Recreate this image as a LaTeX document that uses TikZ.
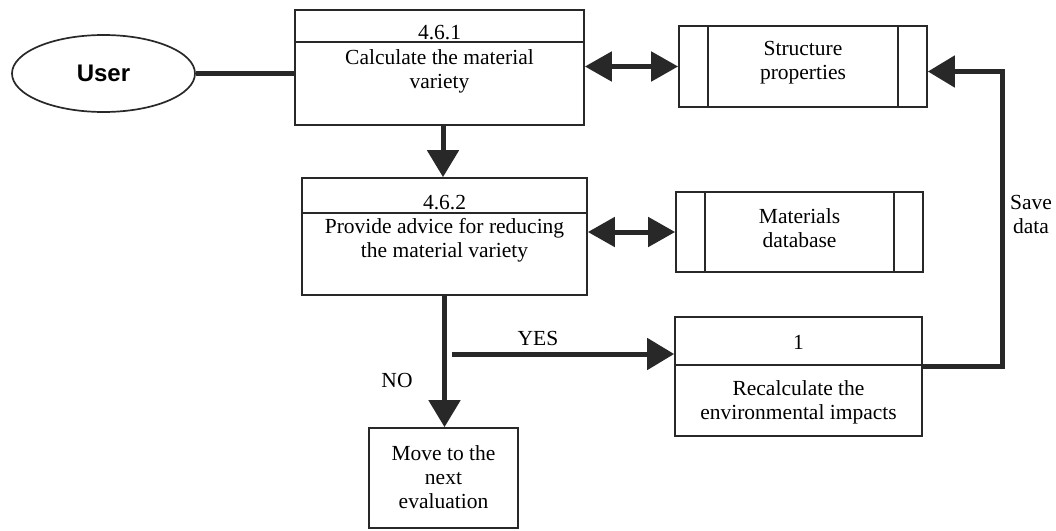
\documentclass[tikz,border=0pt]{standalone}
\usepackage{fontspec}
\setmainfont{Liberation Serif}
\newfontfamily\actorfont{Liberation Sans}
\definecolor{inkgray}{RGB}{40, 40, 40}
\usetikzlibrary{arrows.meta, positioning, shapes.geometric, calc}
\tikzset{
	procbox/.style={rectangle, draw=inkgray, line width=1.7pt, inner sep=0pt, fill=white},
	storebox/.style={rectangle, draw=inkgray, line width=1.7pt, inner sep=0pt, fill=white},
	actor/.style={ellipse, draw=inkgray, line width=1.7pt, inner sep=0pt, minimum width=183pt, minimum height=77pt, font=\actorfont\bfseries\fontsize{24}{26}\selectfont},
	txt/.style={inner sep=0pt, align=center, font=\fontsize{21.5}{24}\selectfont},
	split/.style={draw=inkgray, line width=1.7pt},
	link/.style={draw=inkgray, line width=4.5pt},
	arrow/.style={draw=inkgray, line width=5pt, -{Triangle[length=27pt, width=31pt]}},
	duplex/.style={draw=inkgray, line width=5pt, {Triangle[length=27pt, width=29pt]}-{Triangle[length=27pt, width=29pt]}},
}
\begin{document}
\begin{tikzpicture}[x=1pt, y=-1pt]
		\useasboundingbox[fill=white] (0,0) rectangle (1056,530);
		% actor and process boxes
		\node[actor] (user) at (103.5,73.5) {User};
		\node[procbox, minimum width=289pt, minimum height=115pt] (calc) at (439.5,67.5) {};
		\node[procbox, minimum width=285pt, minimum height=117pt] (advice) at (444.5,236.5) {};
		\node[procbox, minimum width=247pt, minimum height=119pt] (recalc) at (798.5,376.5) {};
		\node[procbox, minimum width=149pt, minimum height=100pt] (next) at (443.5,478) {};
		% data stores
		\node[storebox, minimum width=248pt, minimum height=81pt] (struct) at (803,66.5) {};
		\node[storebox, minimum width=247pt, minimum height=80pt] (matdb) at (799.5,232) {};
		\foreach \s in {struct,matdb}{
			\draw[split] ([xshift=30pt]\s.north west) -- ([xshift=30pt]\s.south west);
			\draw[split] ([xshift=-30pt]\s.north east) -- ([xshift=-30pt]\s.south east);
		}
		% header lines of the process boxes
		\foreach \n/\d in {calc/33,advice/36,recalc/49}{
			\draw[split] ([yshift=-\d pt]\n.north west) -- ([yshift=-\d pt]\n.north east);
		}
		% texts
		\node[txt] (calcid) at (439.5,33) {4.6.1};
		\node[txt] (calctxt) at (439.5,71) {Calculate the material\\variety};
		\node[txt] (adviceid) at (444.5,203) {4.6.2};
		\node[txt] (advicetxt) at (444.5,240) {Provide advice for reducing\\the material variety};
		\node[txt] (recalcid) at (798.5,342) {1};
		\node[txt] (recalctxt) at (798.5,402) {Recalculate the\\environmental impacts};
		\node[txt] (nexttxt) at (443.5,477) {Move to the\\next\\evaluation};
		\node[txt] (structtxt) at (803,63) {Structure\\properties};
		\node[txt] (matdbtxt) at (799.5,228) {Materials\\database};
		\node[txt] (yes) at (538,338) {YES};
		\node[txt] (no) at (397,380) {NO};
		\node[txt] (save) at (1031,214) {Save\\data};
		% connectors
		\coordinate (fork) at (452,354);
		\coordinate (saveturn) at (1002,366);
		\draw[link] (user.east) -- (user.east -| calc.west);
		\draw[arrow] ([xshift=3.5pt]calc.south) -- ([xshift=3.5pt]calc.south |- advice.north);
		\draw[duplex] (struct.west -| calc.east) -- (struct.west);
		\draw[duplex] (matdb.west -| advice.east) -- (matdb.west);
		\draw[arrow] (advice.south) -- (advice.south |- next.north);
		\draw[arrow] (fork) -- (fork -| recalc.west);
		\draw[arrow] (recalc.east |- saveturn) -- (saveturn) |- ([yshift=-5pt]struct.east);
	\end{tikzpicture}
\end{document}
